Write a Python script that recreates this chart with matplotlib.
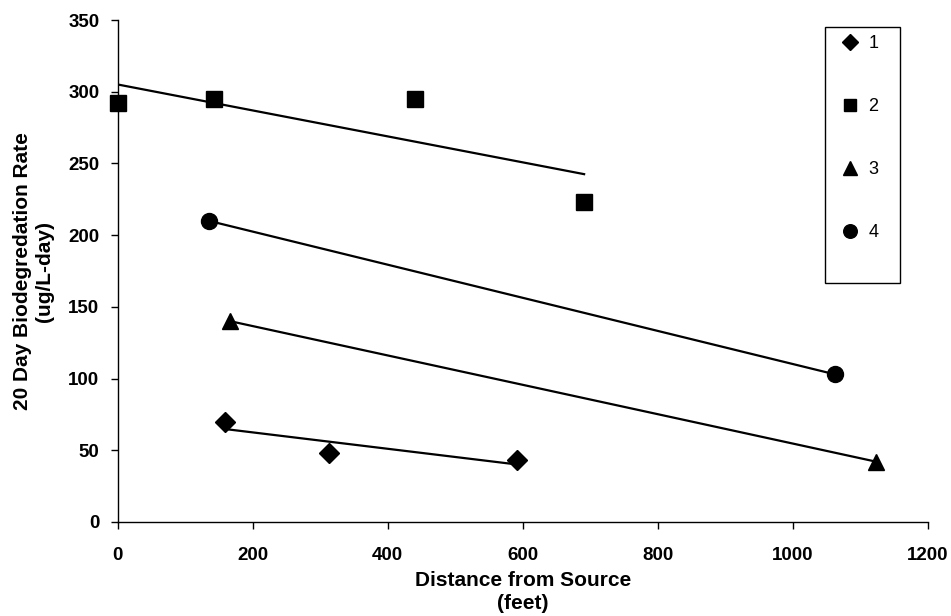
import numpy as np
import matplotlib.pyplot as plt
from matplotlib.patches import Rectangle

plt.rcParams['font.family'] = ['Liberation Sans', 'DejaVu Sans']

# -----------------------------
# data
# -----------------------------
labels = ['1', '2', '3', '4']
markers = ['D', 's', '^', 'o']
msizes = [10, 11, 12, 11.5]

x1 = [159, 313, 591]
y1 = [70, 48, 43]
x2 = [0, 143, 440, 691]
y2 = [292, 295, 295, 223]
x3 = [167, 1124]
y3 = [140, 42]
x4 = [135, 1062]
y4 = [210, 103]

xs = [x1, x2, x3, x4]
ys = [y1, y2, y3, y4]

xticks = [0, 200, 400, 600, 800, 1000, 1200]
yticks = [0, 50, 100, 150, 200, 250, 300, 350]

# -----------------------------
# plot
# -----------------------------
fig = plt.figure(figsize=(9.51, 6.16), dpi=100)
ax = fig.add_axes([0.1236, 0.1526, 0.852, 0.8149])

for x, y, m, ms, lab in zip(xs, ys, markers, msizes, labels):
    ax.plot(x, y, linestyle='none', marker=m, markersize=ms,
            color='black', label=lab, clip_on=False, zorder=3)
    # linear trendline over the data range
    k, c = np.polyfit(x, y, 1)
    xx = np.array([min(x), max(x)])
    ax.plot(xx, k * xx + c, color='black', lw=1.6, zorder=2)

ax.set_xlim(0, 1200)
ax.set_ylim(0, 350)
ax.set_xticks(xticks)
ax.set_yticks(yticks)
for s in ['top', 'right']:
    ax.spines[s].set_visible(False)
for s in ['left', 'bottom']:
    ax.spines[s].set_linewidth(1.0)
ax.tick_params(axis='both', direction='out', length=5, width=1,
               labelsize=13.5)
ax.tick_params(axis='x', pad=13)
ax.tick_params(axis='y', pad=8)
for t in ax.get_xticklabels() + ax.get_yticklabels():
    t.set_fontweight('bold')

ax.set_xlabel('Distance from Source\n(feet)', fontsize=15, fontweight='bold',
              labelpad=5, linespacing=1.3)
ax.set_ylabel('20 Day Biodegredation Rate\n(ug/L-day)', fontsize=15,
              fontweight='bold', labelpad=10, linespacing=1.2)

# legend box
leg_handles = []
for m, ms, lab in zip(markers, msizes, labels):
    h, = ax.plot([], [], linestyle='none', marker=m, markersize=ms * 0.85,
                 color='black', label=lab)
    leg_handles.append(h)
fig.add_artist(Rectangle((825 / 951, 1 - 283 / 616), 75 / 951, 256 / 616,
                         transform=fig.transFigure, facecolor='white',
                         edgecolor='black', lw=1.0, zorder=1))
leg = fig.legend(handles=leg_handles, labels=labels, loc='upper left',
                 bbox_to_anchor=(834 / 951, 1 - 26 / 616), frameon=False,
                 fontsize=13, labelspacing=2.55, handlelength=0.8,
                 handletextpad=0.6, borderpad=0.0)
leg.set_zorder(5)

fig.savefig('out.png', dpi=100)
